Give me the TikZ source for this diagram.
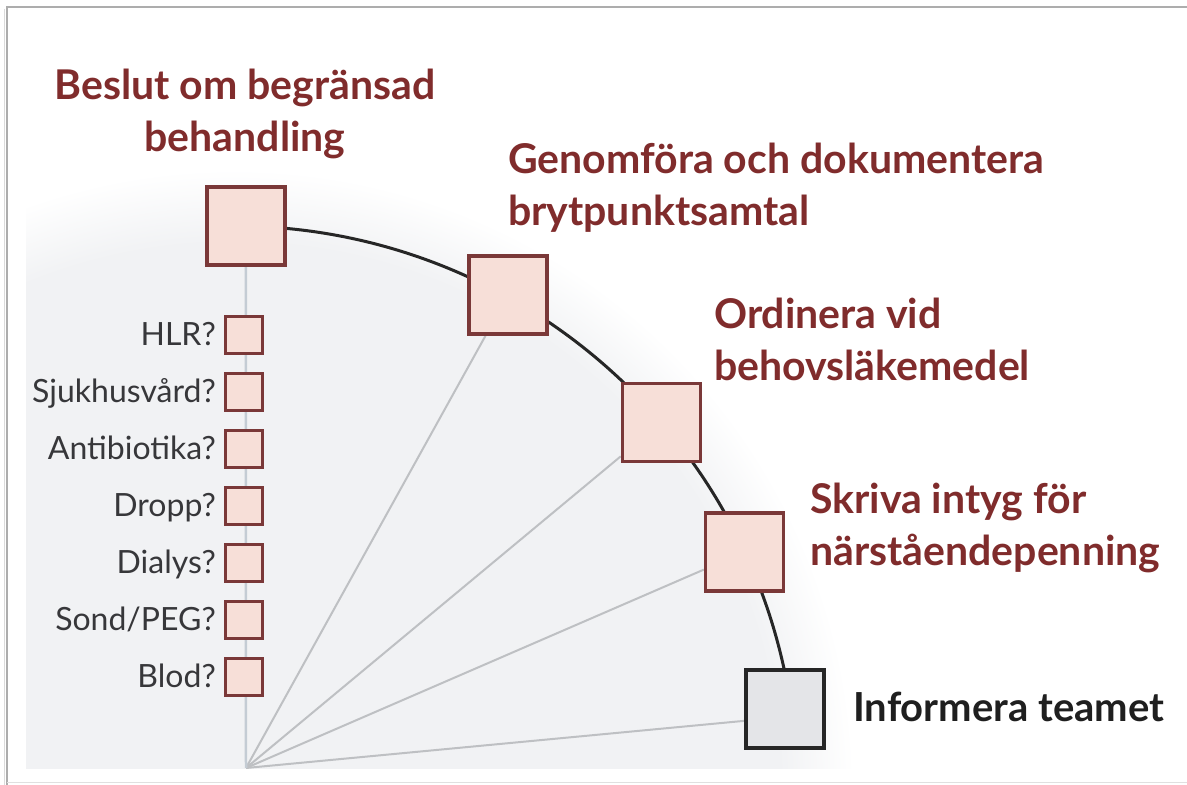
\documentclass[tikz,border=0pt]{standalone}
\usepackage{fontspec}
\setmainfont{Lato}
\definecolor{fanbg}{RGB}{241,242,244}
\definecolor{boxfill}{RGB}{247,223,216}
\definecolor{boxdraw}{RGB}{122,56,56}
\definecolor{redtext}{RGB}{128,44,44}
\definecolor{greytext}{RGB}{55,55,58}
\definecolor{fanline}{RGB}{190,192,195}
\definecolor{stemline}{RGB}{196,204,212}
\definecolor{teambox}{RGB}{228,229,232}
% soft-edged disc behind the fan (25bp is the rim of the shaded circle)
\pgfdeclareradialshading{fanfade}{\pgfpoint{0bp}{0bp}}{color(0bp)=(fanbg); color(22bp)=(fanbg); color(25bp)=(white); color(50bp)=(white)}
\begin{document}
\begin{tikzpicture}[x=1pt,y=1pt,
  stepbox/.style={draw=boxdraw, fill=boxfill, line width=3.5pt, minimum size=78pt, inner sep=0pt},
  teamstep/.style={stepbox, draw=black!85, fill=teambox},
  checkbox/.style={draw=boxdraw, fill=boxfill, line width=3pt, minimum size=37pt, inner sep=0pt},
  steplabel/.style={text=redtext, font=\fontsize{41}{52}\selectfont\bfseries, inner sep=0pt},
  teamlabel/.style={steplabel, text=black!88, font=\fontsize{40}{50}\selectfont\bfseries},
  checklabel/.style={text=greytext, font=\fontsize{32}{38}\selectfont, inner sep=0pt, anchor=base east},
  fanlink/.style={draw=fanline, line width=2pt},
  stemlink/.style={draw=stemline, line width=2.5pt},
  arcline/.style={draw=black!85, line width=3pt}
]
\useasboundingbox (0,0) rectangle (1187,785);
\fill[white] (0,0) rectangle (1187,785);

% page frame
\draw[black!14, line width=1.5pt] (4.5,776) -- (4.5,0);
\draw[black!32, line width=1.2pt] (1187,778) -- (7,778) -- (7,0);
\draw[black!12, line width=1pt] (7,2.5) -- (1187,2.5);

% grey backdrop of the fan
\begin{scope}
  \clip (26,16) rectangle (1187,785);
  \shade[shading=fanfade] (234,-4) circle[radius=620];
\end{scope}

% base point of the fan
\coordinate (fo) at (246,17);

% step boxes along the arc
\node[stepbox] (b1) at (245.8,558.9) {};
\node[stepbox] (b2) at (508,490) {};
\node[stepbox] (b3) at (661.5,362.4) {};
\node[stepbox] (b4) at (744.6,233) {};
\node[teamstep] (b5) at (785,76) {};

% fan of thin lines from the base point
\foreach \b in {b2,b3,b4} \draw[fanlink] (fo) -- (\b);
\draw[fanlink] (fo) -- ([yshift=-8pt]b5.center);
\draw[stemlink] (fo) -- (b1);

% main arc through the steps
\draw[arcline] (b1.center) arc[start angle=88.8, end angle=9, radius=563];

% boxes drawn again above the lines
\node[stepbox] at (b1) {};
\node[stepbox] at (b2) {};
\node[stepbox] at (b3) {};
\node[stepbox] at (b4) {};
\node[teamstep] at (b5) {};

% check list on the stem
\foreach \i/\t in {1/HLR?,2/Sjukhusvård?,3/Antibiotika?,4/Dropp?,5/Dialys?,6/Sond\slash PEG?,7/Blod?}{
  \pgfmathsetmacro{\yc}{450-57*(\i-1)}
  \node[checkbox] (q\i) at (244,\yc) {};
  \node[checklabel] (t\i) at (216,\yc-11) {\t};
}

% step labels (anchored on the baseline of their last line)
\node[steplabel, align=center, anchor=base] (l1) at (245,633) {Beslut om begränsad\\behandling};
\node[steplabel, align=left, anchor=base west] (l2) at (508,559) {Genomföra och dokumentera\\brytpunktsamtal};
\node[steplabel, align=left, anchor=base west] (l3) at (714,404) {Ordinera vid\\behovsläkemedel};
\node[steplabel, align=left, anchor=base west] (l4) at (810,219) {Skriva intyg för\\närståendepenning};
\node[teamlabel, anchor=base west] (l5) at (853,63) {Informera teamet};
\end{tikzpicture}
\end{document}
